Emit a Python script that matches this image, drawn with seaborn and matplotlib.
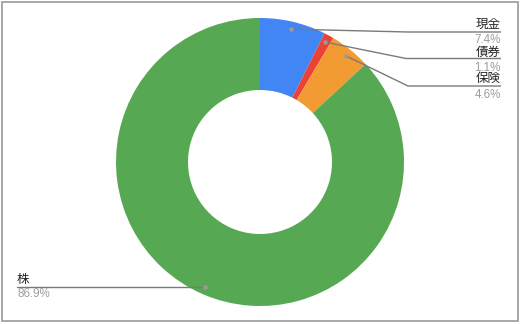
import numpy as np
import matplotlib
matplotlib.use("Agg")
import matplotlib.pyplot as plt
import seaborn as sns

categories = ["現金", "債券", "保険", "株"]
shares = [7.4, 1.1, 4.6, 86.9]
pct_labels = ["7.4%", "1.1%", "4.6%", "86.9%"]
colors = ["#4285F4", "#EA4335", "#F29B33", "#57A853"]

sns.set_theme(style="white")
plt.rcParams["font.family"] = ["Noto Sans CJK JP", "DejaVu Sans"]

W, H = 520, 324
fig = plt.figure(figsize=(W / 100, H / 100), dpi=100)
ax = fig.add_axes([0, 0, 1, 1])

cx, cy, R = 260, 162, 144
ax.pie(shares, colors=colors, startangle=90, counterclock=False,
       radius=R, center=(cx, cy),
       wedgeprops=dict(width=72, edgecolor="none", linewidth=0))
ax.set_xlim(0, W)
ax.set_ylim(0, H)
ax.set_aspect("equal")
ax.axis("off")

# frame around chart
ax.add_patch(plt.Rectangle((1.5, H - 321), 516, 319, fill=False,
                           edgecolor="#9a9a9a", linewidth=1.2, zorder=0))

# leader dots at wedge mid-angles
cum = np.cumsum([0] + shares[:-1])
mids = (cum + np.array(shares) / 2) / 100 * 2 * np.pi
rd = 136.5
dots = [(cx + rd * np.sin(a), cy + rd * np.cos(a)) for a in mids]

# label layout (pixel coords, top-origin): name baseline, pct baseline, bend, underline
right_labels = [
    (28.3, 43.3, (408, 32), 32),
    (55.8, 71.0, (406, 58.5), 58.5),
    (82.2, 98.3, (408, 86), 86),
]
lc = "#7a7a7a"
name_fs, pct_fs = 9.0, 8.4
for i, (ny, py, bend, uy) in enumerate(right_labels):
    dx, dy = dots[i]
    xs = [dx, bend[0], 501]
    ys = [dy, H - bend[1], H - uy]
    ax.plot(xs, ys, color=lc, lw=1.0, solid_capstyle="butt", zorder=3)
    ax.plot([dx], [dy], "o", ms=3.2, color="#9a9a9a", mec="none", zorder=4)
    ax.text(501, H - ny, categories[i], ha="right", va="baseline",
            fontsize=name_fs, color="#222222")
    ax.text(501, H - py, pct_labels[i], ha="right", va="baseline",
            fontsize=pct_fs, color="#9e9e9e",
            family=["Liberation Sans", "DejaVu Sans"])

# left label for 株
dx, dy = dots[3]
ax.plot([17, dx], [dy, dy], color=lc, lw=1.0, zorder=3)
ax.plot([dx], [dy], "o", ms=3.2, color="#9a9a9a", mec="none", zorder=4)
ax.text(17, H - 282.5, categories[3], ha="left", va="baseline",
        fontsize=name_fs, color="#222222")
ax.text(17, H - 297.3, pct_labels[3], ha="left", va="baseline",
        fontsize=pct_fs, color="#9e9e9e", family=["Liberation Sans", "DejaVu Sans"])

fig.savefig("out.png", dpi=100)
